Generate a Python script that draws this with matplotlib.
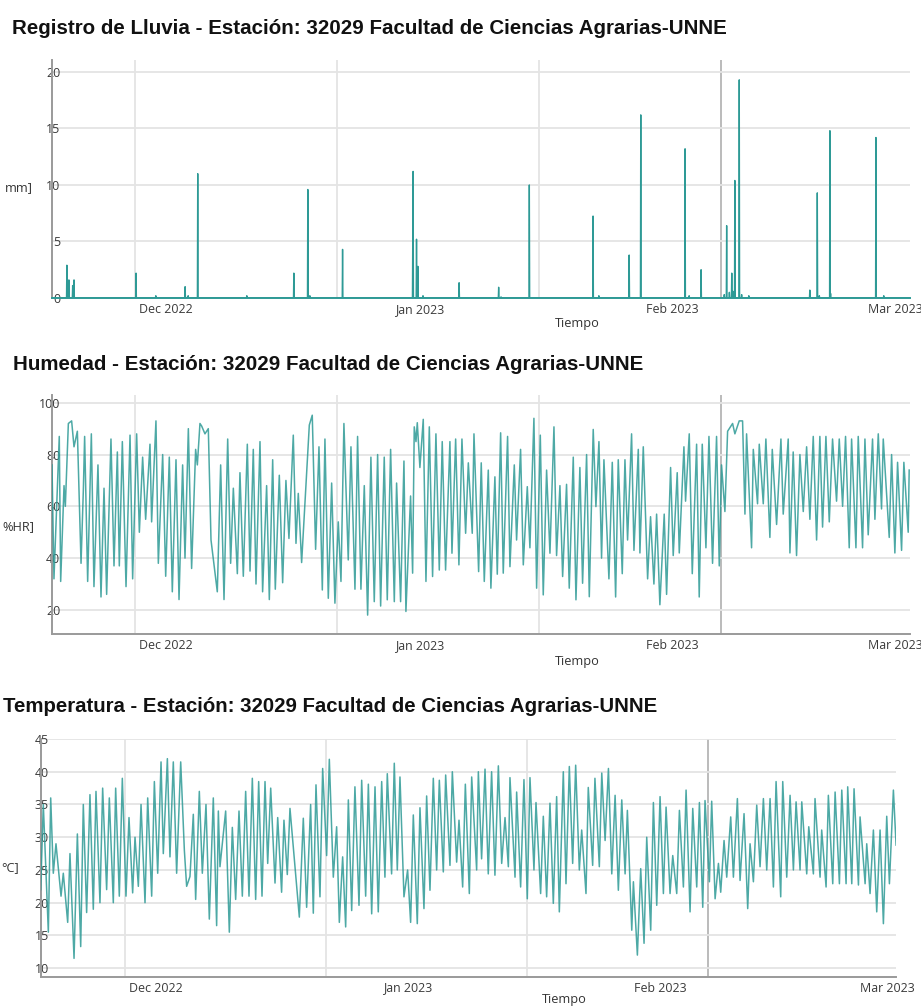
import numpy as np
import pandas as pd
import matplotlib
matplotlib.use("Agg")
import matplotlib.pyplot as plt

# ---------------- DATA ----------------
BASE = "2022-11-17 00:00"

rain_times = ["2022-11-18 22:00", "2022-11-19 04:00", "2022-11-19 15:00", "2022-11-19 19:00",
              "2022-11-27 09:00", "2022-11-29 19:00", "2022-12-03 09:00", "2022-12-03 18:00",
              "2022-12-04 22:00", "2022-12-10 22:00", "2022-12-16 16:00", "2022-12-18 09:00",
              "2022-12-18 15:00", "2022-12-22 15:00", "2022-12-31 05:00", "2022-12-31 06:00",
              "2022-12-31 16:00", "2022-12-31 20:00", "2023-01-01 11:00", "2023-01-05 21:00",
              "2023-01-10 17:00", "2023-01-11 00:00", "2023-01-14 11:00", "2023-01-22 06:00",
              "2023-01-22 23:00", "2023-01-26 16:00", "2023-01-28 02:00", "2023-02-02 12:00",
              "2023-02-03 00:00", "2023-02-04 11:00", "2023-02-07 07:00", "2023-02-07 14:00",
              "2023-02-07 22:00", "2023-02-08 05:00", "2023-02-08 08:00", "2023-02-08 14:00",
              "2023-02-09 03:00", "2023-02-09 10:00", "2023-02-10 07:00", "2023-02-17 18:00",
              "2023-02-18 16:00", "2023-02-18 22:00", "2023-02-20 05:00", "2023-02-20 07:00",
              "2023-02-25 20:00", "2023-02-26 19:00"]
rain_mm = [2.9, 1.6, 1.1, 1.6,
           2.2, 0.2, 1.0, 0.2,
           11.0, 0.2, 2.2, 9.6,
           0.2, 4.3, 6.6, 11.2,
           5.2, 2.8, 0.2, 1.35,
           0.95, 0.1, 10.0, 7.25,
           0.2, 3.8, 16.2, 13.2,
           0.2, 2.5, 0.3, 6.4,
           0.5, 2.2, 0.6, 10.4,
           19.3, 0.3, 0.2, 0.7,
           9.3, 0.2, 14.8, 0.4,
           14.2, 0.2]

# humidity turning points: days since BASE, %HR
hum_days = [0.10, 0.34, 0.99, 1.16, 1.57, 1.73, 2.10, 2.50, 2.79, 3.20, 3.65, 3.93, 4.09, 4.46,
            4.91, 5.23, 5.72, 6.09, 6.46, 6.78, 7.31, 7.68, 8.09, 8.33, 8.70, 9.15, 9.64, 9.96,
            10.45, 10.78, 11.18, 11.55, 12.08, 12.28, 12.81, 13.10, 13.63, 14.00, 14.44, 14.81,
            15.26, 15.63, 16.07, 16.36, 16.77, 17.17, 17.66, 17.87, 18.19, 18.40, 18.80, 19.21,
            19.54, 20.31, 20.72, 21.13, 21.58, 21.94, 22.27, 22.76, 23.08, 23.49, 23.98, 24.31,
            24.71, 25.04, 25.53, 25.85, 26.34, 26.67, 27.08, 27.40, 27.89,
            28.30, 28.70, 29.07, 29.60, 29.93, 30.21, 30.62, 31.56, 31.92, 32.33, 32.74, 33.15,
            33.47, 33.88, 34.29, 34.69, 35.10, 35.43, 35.79, 36.32, 36.65, 37.14, 37.46, 37.87,
            38.28, 38.69, 39.09, 39.50, 39.91, 40.28, 40.72, 41.09, 41.50, 41.95, 42.23, 42.72,
            43.13, 43.37, 43.94, 44.19, 44.39, 44.60, 44.76, 45.08, 45.49, 45.82, 46.23, 46.63,
            47.04, 47.45, 47.81, 48.22, 48.75, 49.00, 49.45, 49.85, 50.22, 50.67, 51.00, 51.48,
            51.69, 52.26, 52.58, 52.95, 53.44, 53.76, 54.25, 54.54, 54.95, 55.27, 55.80, 56.09,
            56.62, 56.90, 57.39, 57.72, 58.21, 58.53, 59.02, 59.35, 59.80, 60.16, 60.57, 60.98,
            61.47, 61.79, 62.20, 62.53, 63.01, 63.34, 63.83, 64.16, 64.64, 64.97, 65.46, 65.79,
            66.27, 66.60, 66.97,
            67.29, 67.58, 68.19, 68.60, 69.01, 69.33, 69.82, 70.15, 70.47, 70.96, 71.25, 71.78,
            71.98, 72.39, 72.92, 73.28, 73.69, 74.02, 74.42, 74.95, 75.24, 75.73, 76.05, 76.54,
            76.79, 77.36, 77.56, 78.01, 78.38, 78.91, 79.23, 79.60, 80.05, 80.42, 80.86, 81.35,
            81.68, 81.96, 82.37, 82.70, 83.31, 83.59, 84.12, 84.53, 84.82, 85.02, 85.63, 85.84,
            86.36, 86.57, 87.06, 87.38, 87.87, 88.16, 88.69, 89.22, 89.50, 90.11, 90.32, 90.72,
            91.13, 91.54, 91.95, 92.36, 92.76, 93.17, 93.58, 93.98, 94.31, 94.72, 95.13, 95.53,
            96.02, 96.35, 96.76, 97.12, 97.57, 97.86, 98.39, 98.67, 99.20, 99.49, 99.89, 100.42,
            100.71, 101.12, 101.52, 101.73, 102.46, 102.75, 103.15, 103.48, 103.97, 104.25,
            104.78, 104.90]
hum_val = [76, 32, 87, 31, 68, 60, 92, 93, 83, 89, 38, 66, 87, 31,
           88, 29, 76, 25, 67, 26, 86, 37, 81, 37, 85, 29, 87.5, 32,
           88, 50, 79, 55, 84, 54, 93, 38, 80, 33, 79, 27,
           78, 24, 76, 40, 90, 36, 82, 76, 92, 91, 88, 90,
           47, 27, 76, 24, 86, 38, 67, 34, 73, 33, 84, 35,
           82, 30, 85, 27, 68, 24, 78, 28, 72,
           30.5, 70, 47.6, 87.5, 45.7, 65, 38.3, 91.4, 95.2, 43.4, 83, 27.7,
           86, 24.5, 69, 22.6, 54, 31, 92, 39.3, 83, 28, 87, 28,
           68, 18, 79, 23.2, 80, 21.5, 79, 23.9, 82, 23.2, 69, 23.2,
           77.5, 19.4, 64, 34.2, 90.7, 85, 92.3, 75, 93.6, 31, 90.7, 32.9,
           88, 35.4, 85, 35.4, 85, 41.9, 86, 37.4, 86, 49.6, 76.8, 49.6,
           88, 34.8, 76.8, 31, 74, 28.4, 71.4, 33.8, 88.4, 34.2, 87, 36.7,
           76, 47, 82, 37.4, 67.6, 44, 94, 28.4, 87.5, 25.8, 74, 41.9,
           90.7, 41, 68, 32.9, 68.5, 28.4, 79, 23.9, 75, 30.3, 80, 25.1,
           89.7, 59.9, 85,
           40, 78, 32, 77, 25, 78, 34, 78, 47, 88, 43, 82,
           42, 83, 32, 56, 30, 57, 22, 57, 26, 75, 41, 73,
           42, 83, 62, 88, 34, 84, 25, 84, 44, 87, 38, 87,
           37, 76, 58, 89, 92, 88, 93, 93, 57, 88, 44, 82,
           61, 84, 61, 86, 48, 82, 53, 86, 57, 86, 42, 81,
           41, 80, 58, 83, 55, 87, 47, 87, 52, 87, 54, 86,
           62, 86, 60, 87, 44, 86, 44, 87, 44, 86, 49, 86,
           55, 88, 59, 86, 48, 80, 42, 77, 43, 77,
           50, 74]

# temperature turning points: days since BASE, degC
tmp_days = [-0.15, 0.17, 0.79, 1.08, 1.40, 1.73, 2.35, 2.63, 3.17, 3.45, 3.95, 4.36, 4.77, 5.09,
            5.50, 5.91, 6.32, 6.65, 7.14, 7.47, 7.96, 8.29, 8.78, 9.07, 9.52, 9.89, 10.34, 10.71,
            11.16, 11.45, 11.86, 12.19, 12.68, 13.01, 13.50, 13.83, 14.24, 14.65, 14.93, 15.43,
            15.75, 16.16, 16.57, 17.07, 17.52, 17.80, 18.21, 18.62, 18.91, 19.36, 19.73, 20.18,
            20.59, 21.08, 21.49, 21.70, 21.90, 22.60, 23.05, 23.42, 23.83, 24.24, 24.65, 25.06,
            25.47, 25.88, 26.29, 26.66, 27.07, 27.44, 27.77, 28.14, 28.67, 29.00,
            29.48, 29.77, 30.18, 30.51, 31.66, 32.15, 32.56, 33.05, 33.38, 33.71, 34.20, 34.53,
            35.02, 35.35, 35.84, 36.25, 36.58, 36.99, 37.36, 37.69, 38.10, 38.50, 39.00, 39.33,
            39.82, 40.15, 40.56, 40.97, 41.37, 41.79, 42.19, 42.48, 43.01, 43.34, 43.71, 44.04,
            44.53, 44.98, 45.35, 45.68, 46.17, 46.50, 46.99, 47.32, 47.73, 48.14, 48.55, 48.88,
            49.37, 49.66, 50.19, 50.48, 51.01, 51.30, 51.75, 52.08, 52.57, 52.86, 53.47, 53.68,
            54.08, 54.50, 54.90, 55.31, 55.72, 56.14, 56.55, 56.96, 57.37, 57.57, 58.19, 58.39,
            58.88, 59.29, 59.70, 60.03, 60.52, 60.77, 61.34, 61.67, 62.08, 62.49, 62.90, 63.31,
            63.64, 64.13, 64.46, 64.87, 65.28, 65.65, 66.10, 66.39, 66.92, 67.20, 67.74, 68.02,
            68.56, 68.86, 69.27, 69.68, 70.09, 70.50, 70.90, 71.32, 71.73, 72.01, 72.55, 72.75,
            73.24, 73.65, 74.06, 74.39, 74.88, 75.21, 75.62, 76.03, 76.44, 76.77, 77.26, 77.59,
            78.08, 78.41, 78.90, 79.23, 79.72, 80.05, 80.54, 80.87, 81.28, 81.56, 82.10, 82.38,
            82.80, 83.21, 83.49, 83.90, 84.23, 84.72, 85.05, 85.54, 85.87, 86.36, 86.81, 87.10,
            87.51, 87.92, 88.33, 88.74, 89.15, 89.56, 89.97, 90.30, 90.87, 91.12, 91.61, 92.02,
            92.43, 92.76, 93.25, 93.46, 94.07, 94.32, 94.89, 95.09, 95.71, 95.91, 96.45, 96.73,
            97.27, 97.56, 98.09, 98.38, 98.91, 99.11, 99.61, 99.89, 100.43, 100.63, 101.25,
            101.45, 101.86, 102.27, 102.68, 103.09, 103.50, 103.91, 104.24, 104.73, 105.06]
tmp_val = [22, 35, 15.5, 36, 24.5, 29, 21, 24.5, 17, 27.5, 11.5, 30.5, 13.3, 35,
           18.5, 36.5, 19, 37, 20, 37.5, 22, 36, 20, 37.5, 21, 39, 21, 33,
           21.5, 30, 22.5, 35, 20, 36, 21, 38.5, 24.5, 41.5, 27.5, 42,
           27, 41.5, 24.5, 41.5, 28, 22.5, 24, 33.5, 20.5, 37, 24.5, 35,
           17.5, 36, 16.5, 34, 25.5, 34, 15.5, 31.5, 20.5, 34, 21, 37,
           21, 39, 20.5, 38.5, 21, 38.5, 26, 37.5, 23, 33,
           21.6, 32.6, 24.3, 34.4, 17.8, 32.9, 19.3, 35, 18.4, 38, 20.9, 40.5,
           27.2, 41.9, 23.9, 31.6, 17, 27, 16.3, 35.7, 18.8, 37.7, 19.6, 38.7,
           21, 38.1, 18.3, 37.7, 18.6, 38.5, 23.9, 39.7, 24.4, 41.3, 25, 39.2,
           20.9, 25, 17, 33.4, 16.8, 34.5, 19.1, 36.3, 21.9, 39, 25, 38.7,
           24.7, 39.5, 25.7, 40, 26.2, 32.6, 22.4, 38.1, 21.4, 39.2, 25, 40,
           26.7, 40.4, 24.4, 40, 24.2, 40.9, 26, 33, 25.5, 39.1, 23.9, 36.9,
           22.4, 38.8, 20.6, 39.1, 25, 35.3, 21.4, 33.2, 20.9, 35.2, 19.9, 36.2,
           18.6, 40, 22.9, 40.8, 26, 41, 25, 31.1, 21.4, 37.6, 25.7, 39,
           25.5, 39.8, 29.5, 40.5, 24.4, 36.4, 21.9, 35.7, 24.4, 34.1, 15.8, 23.2,
           12, 25.2, 13.8, 30, 15.8, 35.3, 19.6, 36.2, 21.4, 34.6, 21.4, 27.2,
           21.4, 34.1, 22.4, 37.2, 18.6, 34.4, 22.4, 35.3, 19.3, 35.6, 23.2, 35.5,
           20.6, 26, 21.6, 29.5, 23.9, 33.1, 23.9, 35.9, 23.4, 33.6, 19.1, 29,
           23.2, 34.9, 25.5, 35.9, 25, 35.9, 22.4, 38.5, 20.9, 38.5, 23.9, 36.4,
           25, 35.4, 25, 35.4, 24.4, 31.6, 24.4, 35.9, 23.9, 31.1, 22.4, 36.4,
           22.9, 36.9, 22.9, 37.2, 22.9, 37.7, 22.9, 37.4, 22.7, 33.1, 22.9,
           29, 21.4, 31.1, 18.6, 31.1, 16.8, 33.2, 22.9, 37.2, 28.8]

month_ticks = ["2022-12-01", "2023-01-01", "2023-02-01", "2023-03-01"]
month_labels = ["Dec 2022", "Jan 2023", "Feb 2023", "Mar 2023"]
vgrid_days = [10.2, 35.0, 59.65, 81.93]

titles = ["Registro de Lluvia - Estación: 32029 Facultad de Ciencias Agrarias-UNNE",
          "Humedad - Estación: 32029 Facultad de Ciencias Agrarias-UNNE",
          "Temperatura - Estación: 32029 Facultad de Ciencias Agrarias-UNNE"]
ylabels = ["mm]", "%HR]", "°C]"]

# ---------------- BUILD ----------------
base = pd.Timestamp(BASE)
def to_dt(d):
    return base + pd.to_timedelta(np.asarray(d, dtype=float), unit="D")

hours = pd.date_range(base, base + pd.Timedelta(days=105.2), freq="h")
rain = pd.Series(0.0, index=hours)
for t, v in zip(rain_times, rain_mm):
    rain[pd.Timestamp(t)] = v

W, H = 921, 1008
fig = plt.figure(figsize=(W / 100, H / 100), dpi=100)
fig.patch.set_facecolor("white")

LINE = "#2e9a96"
GRID = "#e4e4e4"
TICKC = "#3a3a3a"
TFONT = "Open Sans"
TSIZE = 8.9

def add_ax(l, t, r, b):
    return fig.add_axes([l / W, 1 - b / H, (r - l) / W, (b - t) / H])

def style(ax, xlim_days, ylim, yticks, last_label_inside=False):
    ax.set_xlim(to_dt(xlim_days[0]), to_dt(xlim_days[1]))
    ax.set_ylim(*ylim)
    ax.set_yticks(yticks)
    ax.set_yticklabels([str(v) for v in yticks], fontsize=TSIZE, color=TICKC, family=TFONT)
    labels = list(month_labels)
    if last_label_inside:
        labels[-1] = ""
    ax.set_xticks(pd.to_datetime(month_ticks))
    ax.set_xticklabels(labels, fontsize=TSIZE, color=TICKC, family=TFONT)
    ax.tick_params(axis="y", length=0, pad=-6)
    ax.tick_params(axis="x", length=0, pad=3.5)
    if last_label_inside:
        # last month label kept inside the canvas, right-aligned to its edge
        ax.annotate(month_labels[-1], xy=(1, 0), xycoords="axes fraction",
                    xytext=(9, -3.4), textcoords="offset points", ha="right", va="top",
                    fontsize=TSIZE, color=TICKC, family=TFONT, annotation_clip=False)
    ax.grid(axis="y", color=GRID, lw=1.3)
    ax.set_axisbelow(True)
    for i, d in enumerate(vgrid_days):
        ax.axvline(to_dt(d), color="#a8a8a8" if i == 3 else GRID,
                   lw=1.1 if i == 3 else 1.3, zorder=0.5)
    for s in ["top", "right"]:
        ax.spines[s].set_visible(False)
    for s in ["left", "bottom"]:
        ax.spines[s].set_color("#9a9a9a")
        ax.spines[s].set_linewidth(1.4)
    for lab in ax.get_yticklabels():
        lab.set_horizontalalignment("right")

# Panel 1: rain
ax1 = add_ax(52, 59.5, 910, 298)
ax1.plot(rain.index, rain.values, color=LINE, lw=1.0, zorder=3)
style(ax1, (0.1, 105.0), (0, 21.1), [0, 5, 10, 15, 20], last_label_inside=True)
ax1.spines["bottom"].set_color(LINE)

# Panel 2: humidity
ax2 = add_ax(52, 395, 910, 634)
ax2.plot(to_dt(hum_days), hum_val, color=LINE, lw=1.1, alpha=0.85, zorder=3)
style(ax2, (0.1, 105.0), (10.7, 103), [20, 40, 60, 80, 100], last_label_inside=True)

# Panel 3: temperature
ax3 = add_ax(40.7, 739, 896, 976.7)
ax3.plot(to_dt(tmp_days), tmp_val, color=LINE, lw=1.1, alpha=0.85, zorder=3)
style(ax3, (-0.15, 105.05), (8.7, 45), [10, 15, 20, 25, 30, 35, 40, 45])

# titles fitted to their measured widths
renderer = fig.canvas.get_renderer()
for (x, y, w), s in zip([(12, 28, 710), (13, 365, 625), (3, 706, 652)], titles):
    t = fig.text(x / W, 1 - y / H, s, fontsize=12, fontweight="bold",
                 family="Liberation Sans", va="center", ha="left", color="#111111")
    tw = t.get_window_extent(renderer).width
    t.set_fontsize(12 * w / tw)

# x labels "Tiempo"
for x, y in [(577, 323), (577, 661), (564, 1000)]:
    fig.text(x / W, 1 - y / H, "Tiempo", fontsize=9.2, family=TFONT, color="#333333",
             ha="center", va="center")

# y labels (left edge)
for (x, y), s in zip([(5, 188), (2, 527), (1, 868)], ylabels):
    fig.text(x / W, 1 - y / H, s, fontsize=9.2, family=TFONT, color="#333333",
             ha="left", va="center")

fig.savefig("out.png", dpi=100, facecolor="white")
